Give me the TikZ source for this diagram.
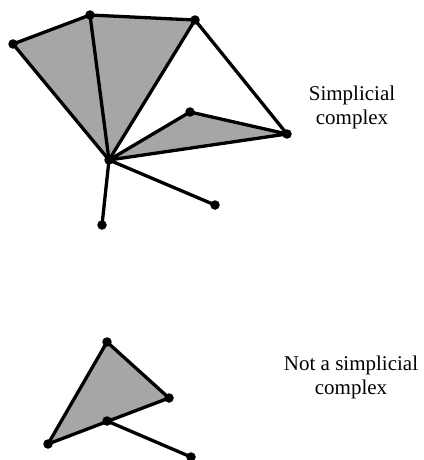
\documentclass[tikz,border=0pt]{standalone}
\usepackage{fontspec}
\setmainfont{Liberation Serif}
\begin{document}
\begin{tikzpicture}[x=1pt,y=-1pt,
  edge/.style={line width=3.3pt,line join=round,line cap=round},
  face/.style={fill=black!35},
  vert/.style={circle,fill=black,inner sep=0pt,minimum size=9.5pt},
  lbl/.style={align=center,font=\fontsize{21}{24}\selectfont}]
\useasboundingbox (0,0) rectangle (423,460);
% top complex
\coordinate (A) at (13,44);
\coordinate (B) at (90,15);
\coordinate (C) at (195,20);
\coordinate (D) at (109,160);
\coordinate (E) at (190,112);
\coordinate (F) at (287,134);
\coordinate (G) at (102,225);
\coordinate (H) at (215,205);
\fill[face] (A) -- (B) -- (C) -- (D) -- cycle;
\fill[face] (D) -- (E) -- (F) -- cycle;
\draw[edge] (A) -- (B) -- (C) -- (D) -- cycle;
\draw[edge] (B) -- (D);
\draw[edge] (D) -- (E) -- (F) -- cycle;
\draw[edge] (C) -- (F);
\draw[edge] (D) -- (G);
\draw[edge] (D) -- (H);
\foreach \v in {A,B,C,D,E,F,G,H} \node[vert] at (\v) {};
% bottom
\coordinate (P) at (107,342);
\coordinate (Q) at (169,398);
\coordinate (R) at (48,444);
\coordinate (S) at (107,421);
\coordinate (T) at (191,457);
\fill[face] (P) -- (Q) -- (R) -- cycle;
\draw[edge] (P) -- (Q) -- (R) -- cycle;
\draw[edge] (S) -- (T);
\foreach \v in {P,Q,R,S,T} \node[vert] at (\v) {};
% labels
\node[lbl] (l1) at (352,107) {Simplicial\\complex};
\node[lbl] (l2) at (351,377) {Not a simplicial\\complex};
\end{tikzpicture}
\end{document}
